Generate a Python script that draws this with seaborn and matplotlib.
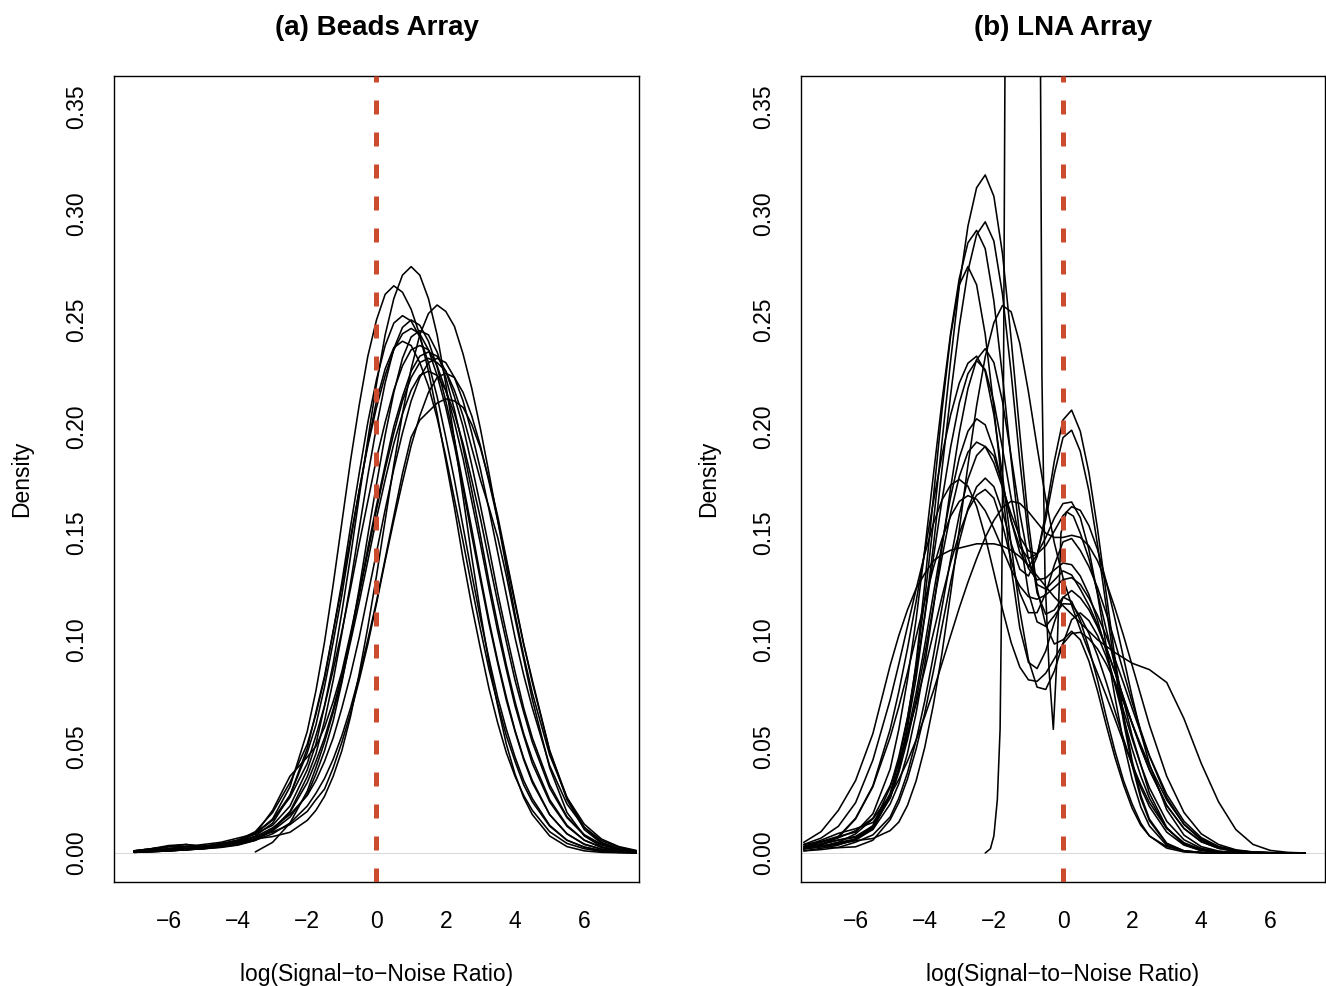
import matplotlib
matplotlib.use("Agg")
import matplotlib.pyplot as plt
from matplotlib import font_manager
import numpy as np
import pandas as pd
import seaborn as sns

# ---------------- data: panel (a) Beads Array ----------------
beads_x = [-7.0, -6.5, -6.0, -5.5, -5.0, -4.5, -4.0, -3.5, -3.0, -2.5, -2.0,
           -1.75, -1.5, -1.25, -1.0, -0.75, -0.5, -0.25, 0.0, 0.25, 0.5, 0.75, 1.0, 1.25, 1.5, 1.75,
           2.0, 2.25, 2.5, 2.75, 3.0, 3.25, 3.5, 3.75, 4.0, 4.25, 4.5,
           5.0, 5.5, 6.0, 6.5, 7.0, 7.5]

beads_1 = [0.001, 0.002, 0.003, 0.003, 0.004, 0.005, 0.007, 0.009, 0.013, 0.022, 0.039,
           0.051, 0.069, 0.089, 0.113, 0.139, 0.167, 0.194, 0.220, 0.243, 0.260, 0.271, 0.275, 0.271, 0.260, 0.243,
           0.220, 0.194, 0.167, 0.139, 0.113, 0.089, 0.069, 0.051, 0.037, 0.026, 0.018,
           0.008, 0.003, 0.001, 0.0003, 0.0001, 0.0]
beads_2 = [0.001, 0.002, 0.003, 0.003, 0.003, 0.004, 0.006, 0.009, 0.016, 0.031, 0.057,
           0.076, 0.099, 0.126, 0.155, 0.184, 0.210, 0.233, 0.250, 0.262, 0.266, 0.263, 0.255, 0.243, 0.226, 0.206,
           0.184, 0.162, 0.138, 0.116, 0.096, 0.077, 0.061, 0.047, 0.036, 0.027, 0.020,
           0.010, 0.0045, 0.002, 0.0007, 0.0003, 0.0001]
beads_3 = [0.0005, 0.001, 0.002, 0.003, 0.003, 0.004, 0.005, 0.0066, 0.0077, 0.0097, 0.0153,
           0.020, 0.0266, 0.036, 0.048, 0.064, 0.084, 0.106, 0.130, 0.156, 0.182, 0.206, 0.227, 0.243, 0.253, 0.257,
           0.254, 0.247, 0.234, 0.218, 0.199, 0.178, 0.156, 0.134, 0.112, 0.0925, 0.075,
           0.046, 0.026, 0.0135, 0.0065, 0.003, 0.0012]
beads_4 = [0.001, 0.0015, 0.002, 0.002, 0.003, 0.004, 0.006, 0.010, 0.019, 0.033, 0.051,
           0.065, 0.082, 0.104, 0.127, 0.153, 0.178, 0.202, 0.222, 0.238, 0.2485, 0.252, 0.2495, 0.242, 0.230, 0.214,
           0.195, 0.175, 0.153, 0.131, 0.110, 0.091, 0.073, 0.058, 0.045, 0.034, 0.0255,
           0.013, 0.006, 0.0028, 0.0011, 0.0004, 0.0002]
beads_5 = [0.0005, 0.001, 0.0016, 0.0022, 0.0027, 0.0035, 0.005, 0.008, 0.014, 0.027, 0.049,
           0.066, 0.083, 0.104, 0.125, 0.148, 0.170, 0.191, 0.209, 0.224, 0.236, 0.2435, 0.246, 0.2435, 0.236, 0.224,
           0.209, 0.191, 0.171, 0.149, 0.128, 0.1075, 0.089, 0.0716, 0.057, 0.0438, 0.033,
           0.018, 0.009, 0.0042, 0.0018, 0.0007, 0.0003]
beads_6 = [0.0005, 0.0008, 0.001, 0.0015, 0.0022, 0.0035, 0.0056, 0.0093, 0.0155, 0.027, 0.047,
           0.060, 0.078, 0.099, 0.121, 0.146, 0.170, 0.192, 0.212, 0.227, 0.237, 0.240, 0.238, 0.230, 0.219, 0.204,
           0.186, 0.166, 0.146, 0.125, 0.105, 0.086, 0.070, 0.055, 0.043, 0.032, 0.024,
           0.0126, 0.006, 0.0027, 0.0011, 0.0004, 0.0001]
beads_7 = [0.0003, 0.0006, 0.001, 0.0016, 0.0024, 0.0036, 0.0056, 0.009, 0.0155, 0.026, 0.042,
           0.055, 0.069, 0.086, 0.104, 0.124, 0.145, 0.165, 0.185, 0.202, 0.217, 0.2285, 0.236, 0.238, 0.236, 0.2285,
           0.217, 0.202, 0.185, 0.165, 0.145, 0.124, 0.104, 0.086, 0.069, 0.055, 0.042,
           0.024, 0.0125, 0.006, 0.0026, 0.0011, 0.0004]
beads_8 = [0.0005, 0.001, 0.002, 0.003, 0.0032, 0.0045, 0.006, 0.009, 0.020, 0.036, 0.045,
           0.050, 0.059, 0.071, 0.085, 0.103, 0.122, 0.143, 0.163, 0.182, 0.200, 0.214, 0.226, 0.233, 0.235, 0.233,
           0.226, 0.214, 0.200, 0.182, 0.163, 0.143, 0.122, 0.103, 0.085, 0.068, 0.054,
           0.032, 0.017, 0.0086, 0.004, 0.0017, 0.0007]
beads_9 = [0.0008, 0.0015, 0.003, 0.004, 0.0031, 0.0034, 0.005, 0.0076, 0.0118, 0.018, 0.027,
           0.034, 0.043, 0.054, 0.068, 0.0835, 0.101, 0.121, 0.141, 0.161, 0.180, 0.197, 0.212, 0.223, 0.230, 0.232,
           0.230, 0.223, 0.212, 0.197, 0.180, 0.161, 0.141, 0.121, 0.101, 0.0835, 0.068,
           0.041, 0.023, 0.012, 0.0058, 0.0026, 0.001]
beads_10 = [None, None, None, None, None, None, None, 0.0005, 0.005, 0.014, 0.029,
            0.040, 0.052, 0.066, 0.081, 0.099, 0.1175, 0.137, 0.157, 0.175, 0.192, 0.206, 0.217, 0.224, 0.226, 0.224,
            0.217, 0.206, 0.192, 0.175, 0.157, 0.137, 0.1175, 0.099, 0.081, 0.066, 0.052,
            0.0305, 0.0166, 0.0083, 0.0038, 0.0016, 0.0006]
beads_11 = [0.0005, 0.001, 0.0015, 0.002, 0.0031, 0.0042, 0.0056, 0.0076, 0.0098, 0.0133, 0.0195,
            0.025, 0.030, 0.040, 0.052, 0.0655, 0.081, 0.098, 0.117, 0.137, 0.156, 0.174, 0.191, 0.205, 0.216, 0.223,
            0.225, 0.223, 0.216, 0.205, 0.191, 0.174, 0.156, 0.137, 0.117, 0.098, 0.081,
            0.048, 0.026, 0.012, 0.005, 0.002, 0.0007]
beads_12 = [0.0003, 0.0006, 0.001, 0.0015, 0.002, 0.003, 0.004, 0.006, 0.009, 0.014, 0.022,
            0.028, 0.035, 0.044, 0.055, 0.068, 0.083, 0.100, 0.118, 0.138, 0.158, 0.178, 0.195, 0.203, 0.207, 0.211,
            0.213, 0.212, 0.209, 0.201, 0.190, 0.175, 0.158, 0.138, 0.118, 0.098, 0.080,
            0.048, 0.025, 0.011, 0.0045, 0.0017, 0.0006]
beads_13 = [0.001, 0.002, 0.0035, 0.004, 0.003, 0.0032, 0.0045, 0.0066, 0.0104, 0.0168, 0.0274,
            0.037, 0.048, 0.062, 0.080, 0.101, 0.124, 0.149, 0.173, 0.196, 0.216, 0.232, 0.242, 0.245, 0.243, 0.235,
            0.223, 0.208, 0.190, 0.170, 0.149, 0.127, 0.107, 0.088, 0.071, 0.056, 0.044,
            0.025, 0.013, 0.006, 0.0027, 0.0011, 0.0004]
beads_14 = [0.0004, 0.0008, 0.0012, 0.0016, 0.002, 0.0026, 0.0037, 0.0059, 0.0105, 0.019, 0.033,
            0.043, 0.054, 0.0675, 0.0835, 0.101, 0.121, 0.141, 0.161, 0.180, 0.197, 0.212, 0.223, 0.230, 0.232, 0.230,
            0.226, 0.217, 0.205, 0.190, 0.175, 0.162, 0.148, 0.130, 0.110, 0.091, 0.072,
            0.040, 0.019, 0.008, 0.003, 0.001, 0.0004]
beads_15 = [0.0003, 0.0006, 0.001, 0.0015, 0.002, 0.0028, 0.004, 0.0068, 0.0112, 0.0194, 0.0358,
            0.0465, 0.062, 0.081, 0.103, 0.1265, 0.152, 0.177, 0.200, 0.2205, 0.2365, 0.2465, 0.250, 0.2475, 0.240, 0.228,
            0.212, 0.194, 0.173, 0.152, 0.130, 0.109, 0.090, 0.073, 0.0575, 0.0445, 0.034,
            0.018, 0.009, 0.004, 0.0018, 0.0007, 0.0003]

# ---------------- data: panel (b) LNA Array ----------------
lna_x = [-7.5, -7.0, -6.5, -6.0, -5.5, -5.0, -4.75, -4.5, -4.25, -4.0, -3.75, -3.5, -3.25, -3.0, -2.75, -2.5,
         -2.25, -2.0, -1.75, -1.5, -1.25, -1.0, -0.75, -0.5, -0.25, 0.0, 0.25, 0.5, 0.75, 1.0, 1.25, 1.5,
         1.75, 2.0, 2.25, 2.5, 3.0, 3.5, 4.0, 4.5, 5.0, 5.5, 6.0, 6.5, 7.0]

lna_1 = [0.002, 0.003, 0.005, 0.0065, 0.012, 0.028, 0.043, 0.063, 0.088, 0.119, 0.155, 0.193, 0.231, 0.266, 0.294, 0.312,
         0.318, 0.308, 0.281, 0.241, 0.197, 0.155, 0.124, 0.107, 0.098, 0.100, 0.104, 0.100, 0.090, 0.076, 0.060, 0.045,
         0.032, 0.021, 0.013, 0.008, 0.003, 0.001, 0.0003, 0.0001, 0.0, 0.0, 0.0, 0.0, 0.0]
lna_2 = [0.003, 0.004, 0.006, 0.0073, 0.012, 0.026, 0.040, 0.059, 0.082, 0.111, 0.144, 0.180, 0.215, 0.247, 0.273, 0.290,
         0.296, 0.287, 0.262, 0.225, 0.184, 0.148, 0.122, 0.112, 0.114, 0.120, 0.118, 0.109, 0.096, 0.081, 0.064, 0.048,
         0.034, 0.023, 0.014, 0.008, 0.0023, 0.0005, 0.0001, 0.0, 0.0, 0.0, 0.0, 0.0, 0.0]
lna_3 = [0.004, 0.0054, 0.0078, 0.0098, 0.0184, 0.0394, 0.058, 0.0812, 0.1095, 0.1422, 0.1772, 0.212, 0.2438, 0.2695, 0.2862, 0.292,
         0.2834, 0.2589, 0.2235, 0.1843, 0.1486, 0.1222, 0.1084, 0.1063, 0.1113, 0.1169, 0.1167, 0.111, 0.103, 0.0925, 0.0802, 0.0668,
         0.0536, 0.0413, 0.0306, 0.0218, 0.0098, 0.0037, 0.0012, 0.0003, 0.0001, 0.0, 0.0, 0.0, 0.0]
lna_4 = [0.003, 0.006, 0.0092, 0.0114, 0.0143, 0.0259, 0.039, 0.0595, 0.0893, 0.1259, 0.1668, 0.2076, 0.2427, 0.2665, 0.275, 0.2665,
         0.2432, 0.2089, 0.1702, 0.1338, 0.1055, 0.0894, 0.0865, 0.0947, 0.1082, 0.1198, 0.1231, 0.1197, 0.1141, 0.106, 0.0961, 0.0848,
         0.0728, 0.0607, 0.0493, 0.039, 0.0223, 0.0115, 0.0053, 0.0022, 0.0008, 0.0003, 0.0001, 0.0, 0.0]
lna_5 = [0.002, 0.003, 0.0042, 0.0058, 0.0068, 0.0105, 0.0145, 0.0223, 0.0338, 0.0495, 0.0695, 0.0938, 0.1218, 0.1518, 0.1819, 0.2097,
         0.2327, 0.2487, 0.2568, 0.2538, 0.239, 0.2163, 0.1905, 0.1661, 0.1454, 0.1291, 0.1162, 0.1049, 0.0943, 0.0842, 0.0738, 0.063,
         0.052, 0.0416, 0.032, 0.0236, 0.0115, 0.0048, 0.0017, 0.0005, 0.0001, 0.0, 0.0, 0.0, 0.0]
lna_6 = [0.001, 0.0022, 0.0037, 0.0066, 0.011, 0.023, 0.0325, 0.0467, 0.0656, 0.0885, 0.1149, 0.1433, 0.1713, 0.1971, 0.2178, 0.2314,
         0.2365, 0.23, 0.2117, 0.186, 0.1593, 0.1379, 0.1259, 0.1238, 0.128, 0.1323, 0.1304, 0.1237, 0.1161, 0.107, 0.0966, 0.085,
         0.0728, 0.0607, 0.0493, 0.039, 0.0223, 0.0115, 0.0053, 0.0022, 0.0008, 0.0003, 0.0001, 0.0, 0.0]
lna_7 = [0.002, 0.0036, 0.0077, 0.0163, 0.0315, 0.058, 0.0757, 0.0958, 0.1179, 0.1414, 0.1647, 0.1866, 0.2055, 0.2204, 0.2297, 0.233,
         0.2258, 0.2056, 0.1771, 0.1444, 0.1139, 0.0906, 0.0778, 0.0767, 0.0853, 0.0983, 0.1094, 0.1126, 0.109, 0.102, 0.0921, 0.08,
         0.0668, 0.0536, 0.0413, 0.0306, 0.0149, 0.0062, 0.0022, 0.0007, 0.0002, 0.0, 0.0, 0.0, 0.0]
lna_8 = [0.0021, 0.0033, 0.0044, 0.0065, 0.0128, 0.0308, 0.0451, 0.0634, 0.0855, 0.111, 0.1384, 0.1655, 0.1904, 0.2111, 0.2248, 0.231,
         0.2267, 0.2115, 0.1897, 0.1664, 0.1466, 0.1335, 0.1281, 0.1289, 0.1328, 0.136, 0.1352, 0.1299, 0.1212, 0.1091, 0.0946, 0.079,
         0.0633, 0.0488, 0.0361, 0.0257, 0.0116, 0.0044, 0.0014, 0.0004, 0.0001, 0.0, 0.0, 0.0, 0.0]
lna_9 = [0.001, 0.0016, 0.0026, 0.0051, 0.0085, 0.0169, 0.0257, 0.0376, 0.0528, 0.0713, 0.0925, 0.1153, 0.1379, 0.1587, 0.1754, 0.1864,
         0.1907, 0.1862, 0.1731, 0.1559, 0.1409, 0.1343, 0.1398, 0.1564, 0.1779, 0.1948, 0.1983, 0.1884, 0.1698, 0.1444, 0.1156, 0.0872,
         0.0617, 0.0411, 0.0257, 0.0151, 0.0043, 0.001, 0.0002, 0.0, 0.0, 0.0, 0.0, 0.0, 0.0]
lna_10 = [0.0031, 0.0043, 0.0061, 0.0078, 0.0127, 0.0258, 0.0378, 0.0531, 0.0716, 0.093, 0.1159, 0.1387, 0.1595, 0.1766, 0.188, 0.1927,
          0.1906, 0.1829, 0.1714, 0.159, 0.1483, 0.1417, 0.1403, 0.1441, 0.151, 0.1582, 0.1624, 0.1607, 0.1535, 0.1423, 0.1274, 0.11,
          0.0917, 0.0734, 0.0564, 0.0418, 0.0203, 0.0084, 0.003, 0.0009, 0.0002, 0.0, 0.0, 0.0, 0.0]
lna_11 = [0.002, 0.0031, 0.0025, 0.0029, 0.006, 0.0156, 0.0236, 0.0347, 0.0487, 0.0656, 0.0852, 0.1062, 0.1271, 0.1461, 0.1615, 0.1717,
          0.1758, 0.1718, 0.1601, 0.1452, 0.1331, 0.1299, 0.139, 0.1593, 0.1839, 0.2031, 0.2077, 0.1978, 0.1784, 0.1519, 0.1217, 0.0918,
          0.0649, 0.0433, 0.0271, 0.0159, 0.0046, 0.001, 0.0002, 0.0, 0.0, 0.0, 0.0, 0.0, 0.0]
lna_12 = [0.0024, 0.0041, 0.0071, 0.0105, 0.0163, 0.0316, 0.0423, 0.0553, 0.0699, 0.086, 0.1032, 0.1202, 0.1362, 0.1499, 0.1608, 0.1678,
          0.1705, 0.1664, 0.154, 0.1375, 0.122, 0.1127, 0.1127, 0.1218, 0.1351, 0.1459, 0.1475, 0.1419, 0.1343, 0.1244, 0.1125, 0.0992,
          0.085, 0.0708, 0.0575, 0.0455, 0.026, 0.0134, 0.0061, 0.0025, 0.0009, 0.0003, 0.0001, 0.0, 0.0]
lna_13 = [0.0031, 0.005, 0.0073, 0.016, 0.0311, 0.0543, 0.0686, 0.0845, 0.1014, 0.1181, 0.1338, 0.1473, 0.158, 0.1649, 0.1676, 0.1659,
          0.1605, 0.1521, 0.1426, 0.133, 0.1252, 0.1202, 0.119, 0.121, 0.1246, 0.1282, 0.1291, 0.126, 0.1195, 0.1114, 0.1018, 0.0911,
          0.0797, 0.0679, 0.0564, 0.0456, 0.0275, 0.0149, 0.0072, 0.0031, 0.0012, 0.0004, 0.0001, 0.0, 0.0]
lna_14 = [0.002, 0.003, 0.005, 0.009, 0.016, 0.027, 0.0345, 0.043, 0.053, 0.064, 0.076, 0.089, 0.102, 0.115, 0.127, 0.138,
          0.148, 0.156, 0.162, 0.165, 0.164, 0.160, 0.155, 0.150, 0.148, 0.148, 0.149, 0.148, 0.144, 0.137, 0.127, 0.115,
          0.102, 0.088, 0.074, 0.060, 0.036, 0.019, 0.009, 0.004, 0.0015, 0.0005, 0.0002, 0.0, 0.0]
lna_15 = [0.005, 0.010, 0.020, 0.034, 0.056, 0.088, 0.102, 0.114, 0.124, 0.131, 0.137, 0.140, 0.142, 0.143, 0.144, 0.145,
          0.145, 0.145, 0.144, 0.142, 0.139, 0.135, 0.130, 0.125, 0.120, 0.116, 0.112, 0.108, 0.104, 0.100, 0.097, 0.094,
          0.0915, 0.089, 0.0875, 0.086, 0.080, 0.063, 0.042, 0.024, 0.011, 0.004, 0.0012, 0.0003, 0.0]
lna_16 = [0.004, 0.007, 0.0125, 0.0236, 0.0436, 0.0719, 0.0886, 0.1062, 0.1237, 0.1402, 0.1544, 0.1656, 0.1726, 0.1752, 0.172, 0.1626,
          0.1484, 0.1315, 0.1142, 0.0987, 0.0872, 0.0812, 0.0805, 0.0843, 0.0911, 0.0981, 0.1029, 0.1035, 0.1005, 0.0957, 0.0887, 0.0804,
          0.0708, 0.0608, 0.0506, 0.0411, 0.0249, 0.0135, 0.0066, 0.0029, 0.0011, 0.0004, 0.0001, 0.0, 0.0]
lna_17 = [0.0021, 0.0033, 0.0042, 0.006, 0.0112, 0.027, 0.0396, 0.0556, 0.075, 0.0974, 0.1214, 0.1452, 0.167, 0.1854, 0.1978, 0.2036,
          0.2008, 0.1892, 0.1726, 0.1559, 0.1436, 0.1381, 0.1403, 0.1479, 0.1571, 0.1639, 0.1646, 0.1573, 0.1422, 0.1212, 0.0972, 0.0733,
          0.052, 0.0346, 0.0216, 0.0127, 0.0036, 0.0008, 0.0001, 0.0, 0.0, 0.0, 0.0, 0.0, 0.0]

# the very narrow, very tall array (goes off the top of the panel)
lna_spike_x = [-2.25, -2.1, -2.0, -1.9, -1.82, -1.77, -1.72, -1.67, -1.6, -1.4, -1.0, -0.8, -0.66, -0.61, -0.52,
               -0.40, -0.28, -0.18, -0.06, 0.1, 0.3, 0.5, 0.75, 1.0, 1.5, 2.0, 2.5, 3.0, 3.5, 4.0]
lna_spike_y = [0.0, 0.002, 0.008, 0.025, 0.058, 0.129, 0.224, 0.40, 0.60, 0.90, 0.90, 0.70, 0.40, 0.224, 0.129,
               0.085, 0.058, 0.090, 0.150, 0.160, 0.158, 0.150, 0.138, 0.122, 0.088, 0.055, 0.028, 0.012, 0.004, 0.001]

titles = ["(a) Beads Array", "(b) LNA Array"]
x_label = "log(Signal\u2212to\u2212Noise Ratio)"
y_label = "Density"
x_ticks = [-6, -4, -2, 0, 2, 4, 6]
y_ticks = [0.00, 0.05, 0.10, 0.15, 0.20, 0.25, 0.30, 0.35]

beads_curves = [beads_1, beads_2, beads_3, beads_4, beads_5, beads_6, beads_7, beads_8,
                beads_9, beads_10, beads_11, beads_12, beads_13, beads_14, beads_15]
lna_curves = [lna_1, lna_2, lna_3, lna_4, lna_5, lna_6, lna_7, lna_8, lna_9,
              lna_10, lna_11, lna_12, lna_13, lna_14, lna_15, lna_16, lna_17]


def long_frame(xs, curves, start_id=0):
    rows = []
    for k, ys in enumerate(curves):
        for xv, yv in zip(xs, ys):
            if yv is None:
                continue
            rows.append((xv, yv, start_id + k))
    return pd.DataFrame(rows, columns=["x", "density", "curve"])


df_a = long_frame(beads_x, beads_curves)
df_b = pd.concat([long_frame(lna_x, lna_curves),
                  long_frame(lna_spike_x, [lna_spike_y], start_id=100)], ignore_index=True)

# ---------------- style ----------------
sns.set_theme(style="white")
avail = {f.name for f in font_manager.fontManager.ttflist}
fam = "Liberation Sans" if "Liberation Sans" in avail else "DejaVu Sans"
plt.rcParams["font.family"] = [fam, "DejaVu Sans"]
plt.rcParams["axes.unicode_minus"] = True

W, H = 1326, 986
fig = plt.figure(figsize=(W / 100, H / 100), dpi=100, facecolor="white")
ax_top, ax_bot = 76, 882
ax1 = fig.add_axes([114 / W, 1 - ax_bot / H, (639 - 114) / W, (ax_bot - ax_top) / H])
ax2 = fig.add_axes([801 / W, 1 - ax_bot / H, (1325 - 801) / W, (ax_bot - ax_top) / H])

red = "#CC4B2E"
for ax, df, title in [(ax1, df_a, titles[0]), (ax2, df_b, titles[1])]:
    ax.axhline(0, color="#c8c8c8", lw=0.5, zorder=1)
    sns.lineplot(data=df, x="x", y="density", units="curve", estimator=None,
                 color="black", linewidth=1.15, ax=ax, legend=False, sort=False, zorder=2)
    ax.axvline(0, color=red, lw=3.6, linestyle=(0, (2.8, 3.6)), dash_capstyle="butt", zorder=3)

    ax.set_xlim(-7.58, 7.58)
    ax.set_ylim(-0.0136, 0.3644)
    ax.set_xticks(x_ticks)
    ax.set_xticklabels([f"{t:d}".replace("-", "\u2212") for t in x_ticks])
    ax.set_yticks(y_ticks)
    ax.set_yticklabels([f"{t:.2f}" for t in y_ticks])
    ax.tick_params(axis="both", direction="out", length=7.2, width=1.0, color="black",
                   labelsize=16.5, labelcolor="black")
    ax.tick_params(axis="x", pad=13.3)
    ax.tick_params(axis="y", pad=11.5)
    for lab in ax.get_yticklabels():
        lab.set_rotation(90)
        lab.set_va("center")
        lab.set_ha("right")
    for sp in ax.spines.values():
        sp.set_visible(True)
        sp.set_color("black")
        sp.set_linewidth(1.0)
    ax.grid(False)

    ax.set_xlabel(x_label, fontsize=16.5, color="black", va="center")
    ax.xaxis.set_label_coords(0.5, -(975 - ax_bot) / (ax_bot - ax_top))
    ax.set_ylabel(y_label, fontsize=16.5, color="black", va="center")
    ax.set_title(title, fontsize=20, fontweight="bold", color="black",
                 y=1 + (ax_top - 28) / (ax_bot - ax_top), va="center", pad=0)

ax1.yaxis.set_label_coords(-(114 - 22) / (639 - 114), 0.5)
ax2.yaxis.set_label_coords(-(801 - 709) / (1325 - 801), 0.5)

fig.savefig("out.png", dpi=100, facecolor="white")
